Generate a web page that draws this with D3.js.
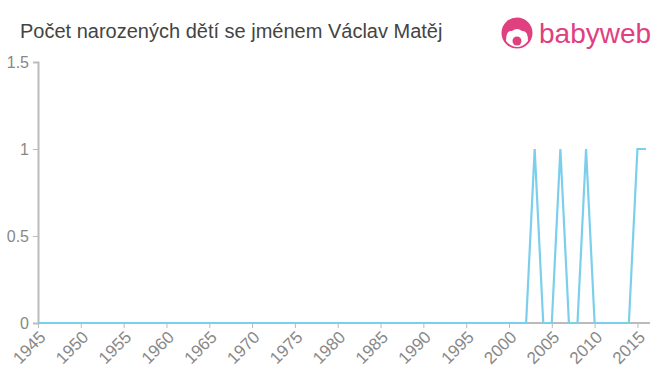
<!DOCTYPE html>
<html>
<head>
<meta charset="utf-8">
<script src="https://cdn.jsdelivr.net/npm/d3@7"></script>
<style>
  body { margin: 0; background: #fff; }
  svg text { font-family: "Liberation Sans", Arial, sans-serif; }
</style>
</head>
<body>
<div id="chart"></div>
<script>
// data
const years = d3.range(1945, 2017);
const oneYears = [2003, 2006, 2009, 2015, 2016];
const counts = years.map(y => oneYears.includes(y) ? 1 : 0);
const xTicks = d3.range(1945, 2016, 5);
const yTicks = [0, 0.5, 1, 1.5];
const title = "Počet narozených dětí se jménem Václav Matěj";

const width = 660, height = 375;

const svg = d3.select("#chart").append("svg")
    .attr("width", width)
    .attr("height", height);

const x = d3.scaleLinear().domain([1945, 2016]).range([38, 646]);
const y = d3.scaleLinear().domain([0, 1.5]).range([323, 62]);

svg.append("text")
    .attr("x", 20)
    .attr("y", 38)
    .attr("fill", "#444")
    .style("font-size", "20px")
    .text(title);

// logo
const logo = svg.append("g").attr("transform", "translate(517,33)");
logo.append("circle").attr("r", 15.5).attr("fill", "#e0407f");
logo.append("path")
    .attr("d", "M-11,8 Q-11,-3 -5,-2 Q0,-6 5,-2 Q11,-3 11,8 Q6,14 0,14 Q-6,14 -11,8Z")
    .attr("fill", "#fff");
logo.append("circle").attr("cx", 0).attr("cy", 8).attr("r", 4.5).attr("fill", "#e0407f");
svg.append("text")
    .attr("x", 539)
    .attr("y", 43)
    .attr("fill", "#e0407f")
    .style("font-size", "28px")
    .text("babyweb");

// y axis
const yAxis = svg.append("g")
    .attr("transform", "translate(38,0)")
    .call(d3.axisLeft(y).tickValues(yTicks).tickSize(5).tickPadding(4).tickFormat(d3.format("")));
yAxis.attr("font-family", null).attr("font-size", null);
yAxis.select(".domain").attr("stroke", "#bbb").attr("stroke-width", 2);
yAxis.selectAll(".tick line").attr("stroke", "#bbb");
yAxis.selectAll(".tick text").attr("fill", "#888").style("font-size", "16px");

// x axis
const xAxis = svg.append("g")
    .attr("transform", "translate(0,323)")
    .call(d3.axisBottom(x).tickValues(xTicks).tickSize(5).tickFormat(d3.format("d")));
xAxis.attr("font-family", null).attr("font-size", null);
xAxis.select(".domain").attr("stroke", "#bbb").attr("stroke-width", 2)
    .attr("d", "M38,0H650");
xAxis.selectAll(".tick line").attr("stroke", "#bbb");
xAxis.selectAll(".tick text")
    .attr("fill", "#888")
    .style("font-size", "17px")
    .style("text-anchor", "end")
    .attr("x", 0)
    .attr("y", 0)
    .attr("dy", "0.35em")
    .attr("transform", "translate(4,11) rotate(-45)");

const line = d3.line()
    .x((d, i) => x(years[i]))
    .y(d => y(d));

svg.append("path")
    .datum(counts)
    .attr("fill", "none")
    .attr("stroke", "#7ccfec")
    .attr("stroke-width", 2.2)
    .attr("d", line);
</script>
</body>
</html>
